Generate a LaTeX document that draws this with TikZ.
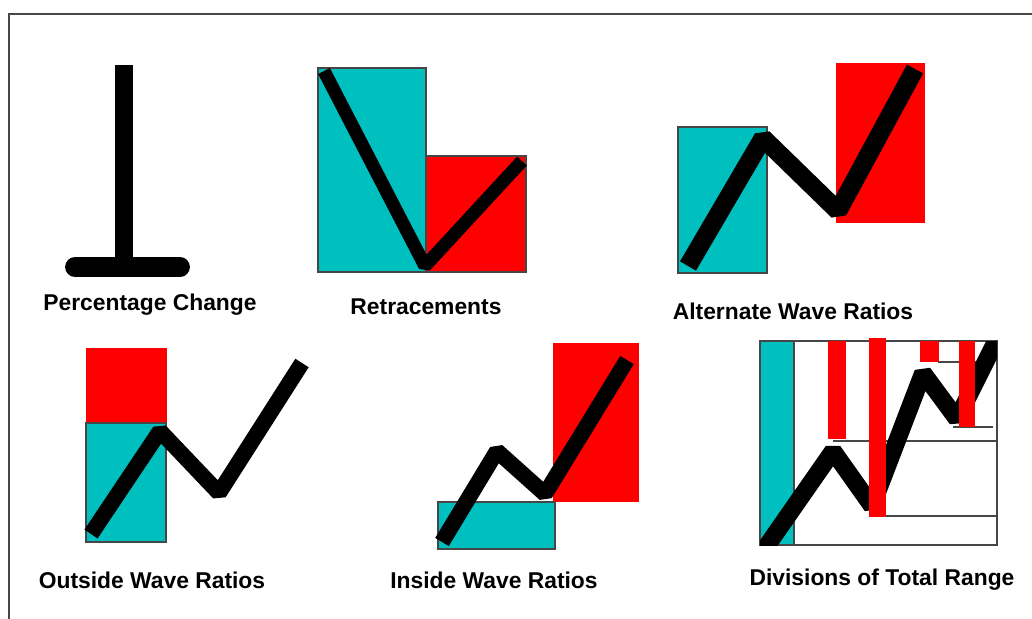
\documentclass[tikz,border=0pt]{standalone}
\usepackage{fontspec}
\setmainfont{Liberation Sans}
\definecolor{wavecyan}{RGB}{0,191,191}
\definecolor{wavered}{RGB}{255,0,0}
\definecolor{edgegray}{RGB}{70,70,70}

\begin{document}
\begin{tikzpicture}[x=0.02cm,y=-0.02cm,line width=.8pt,
  font=\fontsize{13}{15}\selectfont\bfseries,
  cyanbox/.style={fill=wavecyan,draw=edgegray,line width=.8pt},
  redbox/.style={fill=wavered},
  wave/.style={line width=#1,line join=bevel},
  caption/.style={inner sep=1pt}]
\useasboundingbox (0,0) rectangle (1032,619);
\draw[edgegray,line width=1.2pt] (9,619)--(9,14)--(1032,14);

\draw[line width=10.8pt] (124,65)--(124,266);
\draw[line width=11.3pt,line cap=round] (75,267)--(180,267);
\node[caption] (pct) at (150,305) {Percentage Change};

\draw[cyanbox] (318,68) rectangle (426,272);
\draw[redbox,draw=edgegray] (426,156) rectangle (526,272);
\draw[wave=7.5pt] (324,71)--(425,266)--(522,161);
\node[caption] (retr) at (426,307) {Retracements};

\draw[cyanbox] (678,127) rectangle (767,273);
\fill[wavered] (836,63) rectangle (925,223);
\draw[wave=10.5pt] (688,266)--(763,138)--(838,211)--(915,69);
\node[caption] (alt) at (793,311) {Alternate Wave Ratios};

\fill[wavered] (86,348) rectangle (167,423);
\draw[cyanbox] (86,423) rectangle (166,542);
\draw[wave=9pt] (91,534)--(160,431)--(219,493)--(302,363);
\node[caption] (outs) at (152,580) {Outside Wave Ratios};

\fill[wavered] (553,343) rectangle (639,502);
\draw[cyanbox] (438,502) rectangle (555,549);
\draw[wave=9pt] (442,542)--(497,451)--(545,494)--(627,360);
\node[caption] (ins) at (494,580) {Inside Wave Ratios};

\draw[edgegray] (760,341) rectangle (997,545);
\draw[cyanbox] (760,341) rectangle (794,545);
\draw[edgegray] (833,441)--(997,441);
\draw[edgegray] (880,516)--(997,516);
\draw[edgegray] (938,362)--(993,362);
\draw[edgegray] (953,427)--(993,427);
\begin{scope}
\clip (760,341) rectangle (997,545);
\draw[wave=10pt] (757,560)--(833,451)--(872,506)--(923,373)--(957,419)--(1000,333);
\end{scope}
\fill[wavered] (828,341) rectangle (846,439);
\fill[wavered] (869,338) rectangle (886,517);
\fill[wavered] (920,341) rectangle (939,362);
\fill[wavered] (959,341) rectangle (975,427);
\node[caption] (divs) at (882,580) {Divisions of Total Range};
\end{tikzpicture}
\end{document}
